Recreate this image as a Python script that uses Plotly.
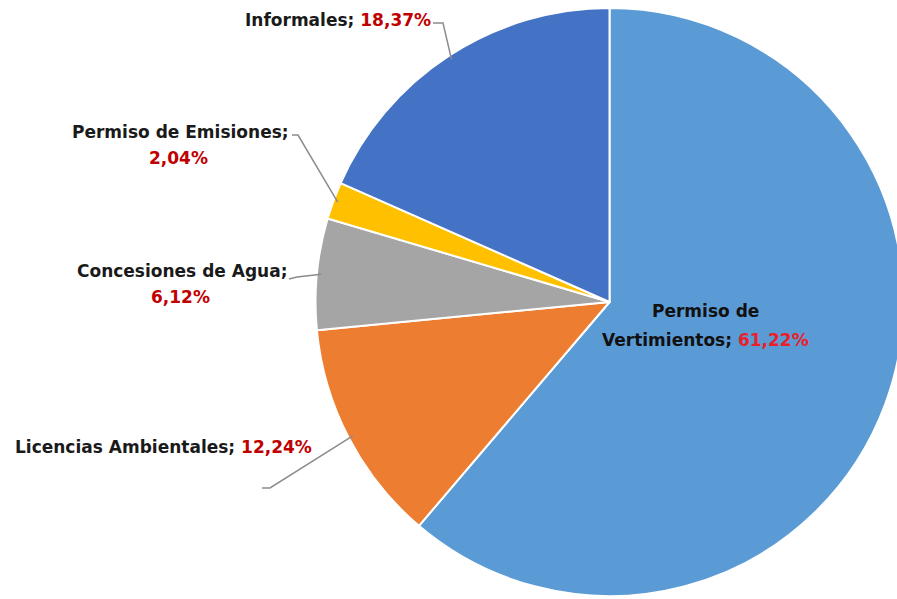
import math
import plotly.graph_objects as go

categories = ["Permiso de Vertimientos", "Licencias Ambientales", "Concesiones de Agua",
              "Permiso de Emisiones", "Informales"]
values = [61.22, 12.24, 6.12, 2.04, 18.37]
pct_labels = ["61,22%", "12,24%", "6,12%", "2,04%", "18,37%"]
colors = ["#5B9BD5", "#ED7D31", "#A5A5A5", "#FFC000", "#4472C4"]

W, H = 905, 599
ML, MR, MT, MB = 0, 0, 8, 3
PW, PH = W - ML - MR, H - MT - MB
DOM_X = [0.347, 1.0]
# pie geometry (pixels) implied by the domain
R = min((DOM_X[1] - DOM_X[0]) * PW, PH) / 2
CX = ML + (DOM_X[0] + DOM_X[1]) / 2 * PW
CY = MT + PH / 2


def px(x):
    return (x - ML) / PW


def py(y):
    return (H - MB - y) / PH


fig = go.Figure(go.Pie(
    labels=categories, values=values, sort=False, direction="clockwise", rotation=0,
    marker=dict(colors=colors, line=dict(color="white", width=2)),
    textinfo="none", hoverinfo="label+percent", showlegend=False,
    domain=dict(x=DOM_X, y=[0, 1]),
))

FONT = "'DejaVu Sans', sans-serif"
BLACK = "#1a1a1a"
RED = "#C00000"

anns = []


def add_text(text, x, y, xanchor="center", size=17):
    anns.append(dict(text=text, x=px(x), y=py(y), xref="paper", yref="paper",
                     xanchor=xanchor, yanchor="middle", showarrow=False,
                     font=dict(family=FONT, size=size, color=BLACK)))


def b(t, c=BLACK):
    return f"<b><span style='color:{c}'>{t}</span></b>"


# Informales
add_text(b(categories[4] + "; ") + b(pct_labels[4], RED), 433, 20, "right")
# Permiso de Emisiones
add_text(b(categories[3] + ";"), 180, 132)
add_text(b(pct_labels[3], RED), 178, 158)
# Concesiones de Agua
add_text(b(categories[2] + ";"), 182, 271)
add_text(b(pct_labels[2], RED), 180, 297)
# Licencias Ambientales
add_text(b(categories[1] + "; ") + b(pct_labels[1], RED), 314, 447, "right")
# Permiso de Vertimientos (inside)
add_text(b("Permiso de", "#111111"), 705, 311)
add_text(b("Vertimientos; ", "#111111") + b(pct_labels[0], "#E8202A"), 705, 340)

# leader lines: from label corner to slice mid-angle on the rim
cum = 0
mid = []
tot = sum(values)
for v in values:
    mid.append((cum + v / 2) / tot * 360)
    cum += v


def rim(i, k=1.0):
    a = math.radians(mid[i])
    return CX + R * k * math.sin(a), CY - R * k * math.cos(a)


leaders = {
    4: [(433, 23), (443, 23)],
    3: [(292, 135), (298, 135)],
    2: [(289, 279), (297, 277)],
    1: [(262, 488), (270, 488)],
}
shapes = []
for i, pts in leaders.items():
    ex, ey = rim(i, 0.985)
    path = pts + [(ex, ey)]
    d = "M " + " L ".join(f"{px(x):.5f},{py(y):.5f}" for x, y in path)
    shapes.append(dict(type="path", path=d, xref="paper", yref="paper",
                       line=dict(color="#8C8C8C", width=1.5)))

fig.update_layout(
    width=W, height=H, margin=dict(l=ML, r=MR, t=MT, b=MB),
    paper_bgcolor="white", plot_bgcolor="white",
    annotations=anns, shapes=shapes,
)
fig.write_html("out.html", config={"displayModeBar": False},
               post_script="document.body.style.margin='0';document.body.style.overflow='hidden';")
